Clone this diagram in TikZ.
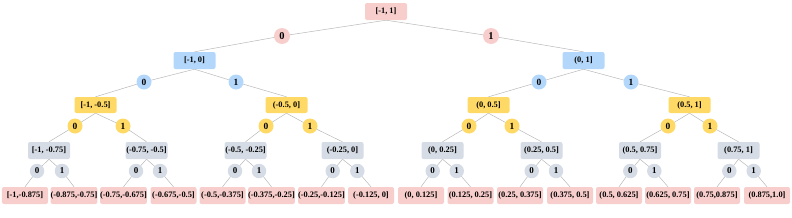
\documentclass[tikz,border=0pt]{standalone}
\usepackage{fontspec}
\setmainfont{Liberation Serif}
\usetikzlibrary{backgrounds}
\definecolor{cpink}{HTML}{F8CECC}
\definecolor{cblue}{HTML}{B3D7FB}
\definecolor{cyel}{HTML}{FFD966}
\definecolor{cgray}{HTML}{D6DCE5}
\definecolor{cline}{HTML}{B8B8B8}
\tikzset{
  box/.style={rectangle, rounded corners=2bp, inner sep=0pt, minimum width=42bp, minimum height=17bp, font=\fontsize{8.4}{9}\selectfont\bfseries, text=black},
  leafbox/.style={box, fill=cpink, minimum width=46bp},
  bit/.style={circle, inner sep=0pt, minimum size=15bp, font=\fontsize{9.5}{10}\selectfont\bfseries, text=black},
  edge/.style={draw=cline, line width=0.5bp}
}
\begin{document}
\begin{tikzpicture}[x=1bp, y=-1bp]
\useasboundingbox (0,0) rectangle (792,217);
% root
\node[box, fill=cpink] (r) at (386,11.5) {[-1, 1]};
\node[bit, fill=cpink, minimum size=16bp, font=\fontsize{10.5}{11}\selectfont\bfseries] (a0) at (282,36) {0};
\node[bit, fill=cpink, minimum size=16bp, font=\fontsize{10.5}{11}\selectfont\bfseries] (a1) at (491,36) {1};
% level 1
\node[box, fill=cblue] (b1) at (194.5,60.5) {[-1, 0]};
\node[box, fill=cblue] (b2) at (583.5,60.5) {(0, 1]};
% level 2 circles
\foreach \x/\n/\t in {144/1/0, 236/2/1, 539/3/0, 631/4/1}
  \node[bit, fill=cblue] (p\n) at (\x,82) {\t};
% level 2 boxes
\foreach \x/\n/\t in {95.5/1/{[-1, -0.5]}, 286.5/2/{(-0.5, 0]}, 488.5/3/{(0, 0.5]}, 689.5/4/{(0.5, 1]}}
  \node[box, fill=cyel, minimum height=16bp] (c\n) at (\x,105) {\t};
% level 3 circles
\foreach \x/\n/\t in {75/1/0, 123/2/1, 266/3/0, 310/4/1, 469/5/0, 512/6/1, 668/7/0, 710/8/1}
  \node[bit, fill=cyel] (q\n) at (\x,126) {\t};
% level 3 boxes
\foreach \x/\n/\t in {49/1/{[-1, -0.75]}, 146.5/2/{(-0.75, -0.5]}, 245.5/3/{(-0.5, -0.25]}, 342.5/4/{(-0.25, 0]}, 442.5/5/{(0, 0.25]}, 541.5/6/{(0.25, 0.5]}, 640/7/{(0.5, 0.75]}, 738.5/8/{(0.75, 1]}}
  \node[box, fill=cgray] (d\n) at (\x,150.5) {\t};
% level 4 circles
\foreach \x/\n/\t in {37/1/0, 62/2/1, 136/3/0, 160/4/1, 235/5/0, 259/6/1, 332.7/7/0, 357.3/8/1, 432.7/9/0, 456.7/10/1, 531.7/11/0, 556/12/1, 630.3/13/0, 654.3/14/1, 729.3/15/0, 753.7/16/1}
  \node[bit, fill=cgray, minimum size=14.5bp, font=\fontsize{9}{10}\selectfont\bfseries] (s\n) at (\x,171) {\t};
% leaves
\foreach \x/\n/\t in {25/1/{[-1,-0.875]}, 74/2/{(-0.875,-0.75]}, 123.5/3/{(-0.75,-0.675]}, 173.5/4/{(-0.675,-0.5]}, 222.5/5/{(-0.5,-0.375]}, 271.5/6/{(-0.375,-0.25]}, 321.5/7/{(-0.25,-0.125]}, 371/8/{(-0.125, 0]}, 421/9/{(0, 0.125]}, 470.5/10/{(0.125, 0.25]}, 520/11/{(0.25, 0.375]}, 570/12/{(0.375, 0.5]}, 619/13/{(0.5, 0.625]}, 668/14/{(0.625, 0.75]}, 717/15/{(0.75,0.875]}, 767/16/{(0.875,1.0]}}
  \node[leafbox] (e\n) at (\x,195.5) {\t};
% edges
\begin{scope}[on background layer]
  \draw[edge] (r.south) -- (a0.center) -- (b1.north);
  \draw[edge] (r.south) -- (a1.center) -- (b2.north);
  \foreach \i in {1,2} {
    \pgfmathtruncatemacro{\ja}{2*\i-1}
    \pgfmathtruncatemacro{\jb}{2*\i}
    \draw[edge] (b\i.south) -- (p\ja.center) -- (c\ja.north);
    \draw[edge] (b\i.south) -- (p\jb.center) -- (c\jb.north);
  }
  \foreach \i in {1,...,4} {
    \pgfmathtruncatemacro{\ja}{2*\i-1}
    \pgfmathtruncatemacro{\jb}{2*\i}
    \draw[edge] (c\i.south) -- (q\ja.center) -- (d\ja.north);
    \draw[edge] (c\i.south) -- (q\jb.center) -- (d\jb.north);
  }
  \foreach \i in {1,...,8} {
    \pgfmathtruncatemacro{\ja}{2*\i-1}
    \pgfmathtruncatemacro{\jb}{2*\i}
    \draw[edge] (d\i.south) -- (s\ja.center) -- (e\ja.north);
    \draw[edge] (d\i.south) -- (s\jb.center) -- (e\jb.north);
  }
\end{scope}
\end{tikzpicture}
\end{document}
